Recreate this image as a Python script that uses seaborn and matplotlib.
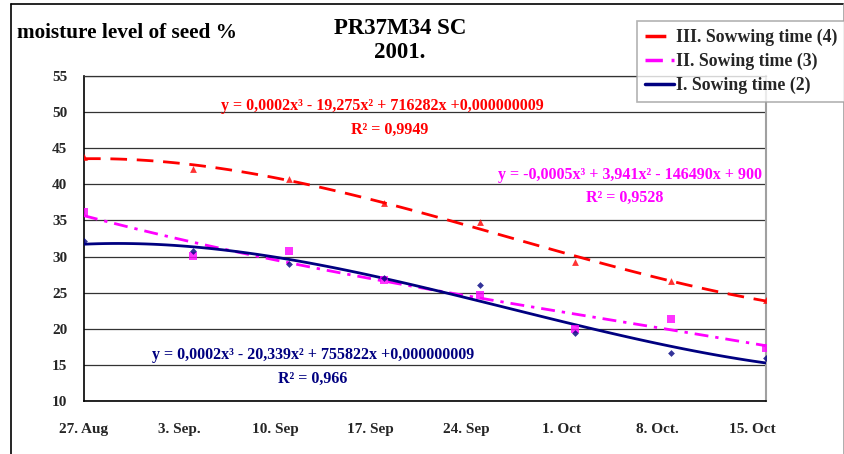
import numpy as np
import pandas as pd
import matplotlib
matplotlib.use("Agg")
import matplotlib.pyplot as plt
import seaborn as sns
from matplotlib.lines import Line2D

# ---- data ----
sample_dates = ["2001-08-27", "2001-09-04", "2001-09-11", "2001-09-18",
                "2001-09-25", "2001-10-02", "2001-10-09", "2001-10-16"]
sowing_III = [43.8, 42.1, 40.7, 37.4, 34.8, 29.2, 26.6, 24.0]
sowing_II = [36.2, 30.1, 30.8, 26.7, 24.7, 20.0, 21.4, 17.3]
sowing_I = [32.1, 30.8, 29.0, 27.0, 26.1, 19.4, 16.6, 15.9]

tick_dates = ["2001-08-27", "2001-09-03", "2001-09-10", "2001-09-17",
              "2001-09-24", "2001-10-01", "2001-10-08", "2001-10-15"]
tick_labels = ["27. Aug", "3. Sep.", "10. Sep", "17. Sep", "24. Sep",
               "1. Oct", "8. Oct.", "15. Oct"]
y_ticks = [10, 15, 20, 25, 30, 35, 40, 45, 50, 55]

series_names = ["III. Sowwing time (4)", "II. Sowing time (3)", "I. Sowing time (2)"]
eq_III = ("y = 0,0002x\u00b3 - 19,275x\u00b2 + 716282x +0,000000009", "R\u00b2 = 0,9949")
eq_II = ("y = -0,0005x\u00b3 + 3,941x\u00b2 - 146490x + 900", "R\u00b2 = 0,9528")
eq_I = ("y = 0,0002x\u00b3 - 20,339x\u00b2 + 755822x +0,000000009", "R\u00b2 = 0,966")

# ---- styling ----
sns.set_style("white")
plt.rcParams["font.family"] = ["Liberation Serif", "DejaVu Serif"]
plt.rcParams["font.weight"] = "bold"

W, H = 845, 454
fig = plt.figure(figsize=(W / 100, H / 100), dpi=100)
L, R, T, B = 84, 766, 76, 401
ax = fig.add_axes([L / W, 1 - B / H, (R - L) / W, (B - T) / H])

origin = pd.Timestamp(sample_dates[0])
days = (pd.to_datetime(pd.Series(sample_dates)) - origin).dt.days.to_numpy()
tick_days = (pd.to_datetime(pd.Series(tick_dates)) - origin).dt.days.to_numpy()

df = pd.DataFrame({"day": days, "III": sowing_III, "II": sowing_II, "I": sowing_I})

red, mag, navy = "#FF0000", "#FF00FF", "#000080"

sns.regplot(data=df, x="day", y="III", order=3, ci=None, ax=ax, marker="^",
            scatter_kws=dict(color=red, s=24, linewidths=0, zorder=4),
            line_kws=dict(color=red, lw=2, linestyle=(0, (6, 3.5)), zorder=3))
sns.regplot(data=df, x="day", y="II", order=3, ci=None, ax=ax, marker="s",
            scatter_kws=dict(color=mag, s=28, linewidths=0, zorder=4),
            line_kws=dict(color=mag, lw=2, linestyle=(0, (5, 2.5, 1.2, 2.5)), zorder=3))
sns.regplot(data=df, x="day", y="I", order=3, ci=None, ax=ax, marker="D",
            scatter_kws=dict(color=navy, s=12, linewidths=0, zorder=4),
            line_kws=dict(color=navy, lw=2, linestyle="-", zorder=3))

ax.set_xlim(0, 50)
ax.set_ylim(10, 55)
ax.set_yticks(y_ticks)
ax.set_xticks(tick_days)
ax.set_xticklabels(tick_labels)
ax.set_xlabel("")
ax.set_ylabel("")
ax.tick_params(axis="y", direction="out", length=5, width=1, color="black",
               labelsize=11, pad=7)
ax.tick_params(axis="x", direction="out", length=5, width=1, color="black",
               labelsize=11, pad=10.5)
for lab in ax.get_xticklabels() + ax.get_yticklabels():
    lab.set_fontweight("bold")
ax.yaxis.grid(True, color="#333333", lw=0.9)
ax.xaxis.grid(False)
ax.set_axisbelow(True)
for s in ["left", "bottom"]:
    ax.spines[s].set_color("black")
    ax.spines[s].set_linewidth(1.2)
ax.spines["top"].set_color("#333333")
ax.spines["top"].set_linewidth(0.9)
ax.spines["right"].set_color("#a0a0a0")
ax.spines["right"].set_linewidth(1.5)

# equations
def ftxt(x, y, s, color, size=11.5, ha="center"):
    fig.text(x / W, 1 - y / H, s, color=color, fontsize=size, fontweight="bold",
             ha=ha, va="center")

ftxt(382, 106, eq_III[0], red)
ftxt(390, 130, eq_III[1], red)
ftxt(630, 175, eq_II[0], mag)
ftxt(625, 198, eq_II[1], mag)
ftxt(313, 355, eq_I[0], navy)
ftxt(313, 379, eq_I[1], navy)

# titles
ftxt(400, 28, "PR37M34 SC", "black", size=16.5)
ftxt(400, 53, "2001.", "black", size=16.5)
ftxt(17, 33, "moisture level of seed %", "black", size=15.3, ha="left")

# outer border
fig.add_artist(Line2D([11 / W, 844 / W], [1 - 4 / H, 1 - 4 / H], color="black", lw=1.2))
fig.add_artist(Line2D([11 / W, 11 / W], [1 - 4 / H, 0], color="black", lw=1.2))
fig.add_artist(Line2D([844 / W, 844 / W], [1 - 4 / H, 0], color="#a0a0a0", lw=1.2))

# legend
handles = [
    Line2D([], [], color=red, lw=2.5, linestyle=(0, (6, 3.5))),
    Line2D([], [], color=mag, lw=2.5, linestyle=(0, (5, 2.5, 1.2, 2.5))),
    Line2D([], [], color=navy, lw=2.5, linestyle="-"),
]
leg = fig.legend(handles, series_names, loc="upper left",
                 bbox_to_anchor=(637 / W, 1 - 21 / H), frameon=True, fancybox=False,
                 prop=dict(family="Liberation Serif", weight="bold", size=12.8),
                 handlelength=1.62, handletextpad=0.12, labelspacing=0.38,
                 borderpad=0.45, borderaxespad=0)
leg.get_frame().set_edgecolor("#a0a0a0")
leg.get_frame().set_linewidth(1.2)

fig.savefig("out.png", dpi=100)
